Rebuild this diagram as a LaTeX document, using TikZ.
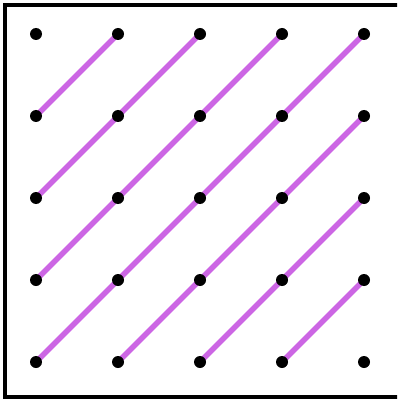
\documentclass[tikz,border=0pt]{standalone}
\definecolor{diag}{RGB}{204,102,228}
\begin{document}
\begin{tikzpicture}[x=0.75pt,y=-0.75pt,
  dot/.style={circle,fill=black,inner sep=0pt,minimum size=9pt},
  diagline/.style={diag,line width=4.2pt}]
\useasboundingbox (0,0) rectangle (397,399);
\begin{scope}
\clip (0,0) rectangle (397,399);
\draw[line width=3pt] (4.7,4.7) rectangle (402,397);
\end{scope}
\foreach \i in {0,...,4}{
  \foreach \j in {0,...,4}{
    \coordinate (p\i\j) at ({36+82*\i},{362-82*\j});
  }
}
\draw[diagline] (p03) -- (p14);
\draw[diagline] (p02) -- (p24);
\draw[diagline] (p01) -- (p34);
\draw[diagline] (p00) -- (p44);
\draw[diagline] (p10) -- (p43);
\draw[diagline] (p20) -- (p42);
\draw[diagline] (p30) -- (p41);
\foreach \i in {0,...,4}{
  \foreach \j in {0,...,4}{
    \node[dot] (d\i\j) at (p\i\j) {};
  }
}
\end{tikzpicture}
\end{document}
